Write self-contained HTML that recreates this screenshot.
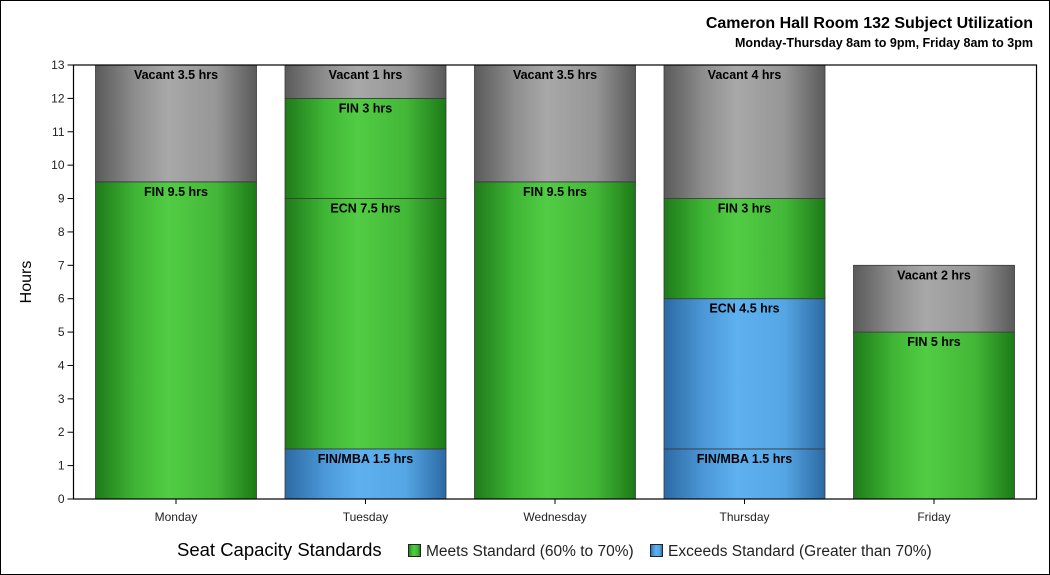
<!DOCTYPE html>
<html><head><meta charset="utf-8"><style>
body{margin:0;background:#fff;}
svg{display:block;font-family:"Liberation Sans",Arial,sans-serif;}
</style></head><body>
<svg id="c" width="1050" height="575">
<defs>
<linearGradient id="gG" x1="0" x2="1" y1="0" y2="0"><stop offset="0" stop-color="#1f7a1a"/><stop offset="0.25" stop-color="#3fb635"/><stop offset="0.45" stop-color="#52cc44"/><stop offset="0.75" stop-color="#43b838"/><stop offset="1" stop-color="#1d7a17"/></linearGradient>
<linearGradient id="gY" x1="0" x2="1" y1="0" y2="0"><stop offset="0" stop-color="#5a5a5a"/><stop offset="0.25" stop-color="#8e8e8e"/><stop offset="0.45" stop-color="#a8a8a8"/><stop offset="0.75" stop-color="#969696"/><stop offset="1" stop-color="#5a5a5a"/></linearGradient>
<linearGradient id="gB" x1="0" x2="1" y1="0" y2="0"><stop offset="0" stop-color="#2c6aa4"/><stop offset="0.25" stop-color="#4c98d8"/><stop offset="0.45" stop-color="#5eb0ee"/><stop offset="0.75" stop-color="#55a6e4"/><stop offset="1" stop-color="#2c6aa4"/></linearGradient>
</defs>
<rect x="0.5" y="0.5" width="1049" height="574" fill="#fff" stroke="#000"/>
<text x="1033" y="28" text-anchor="end" font-size="16" font-weight="bold">Cameron Hall Room 132 Subject Utilization</text>
<text x="1033" y="47" text-anchor="end" font-size="12.5" font-weight="bold">Monday-Thursday 8am to 9pm, Friday 8am to 3pm</text>
<g id="plot"></g>
<text transform="translate(31,282) rotate(-90)" text-anchor="middle" font-size="16">Hours</text>
<g>
<text x="177" y="556" font-size="18.5">Seat Capacity Standards</text>
<rect x="408.5" y="544.5" width="12" height="12" fill="url(#gG)" stroke="#222"/>
<text x="426" y="556" font-size="15.5" fill="#222">Meets Standard (60% to 70%)</text>
<rect x="650.5" y="544.5" width="12" height="12" fill="url(#gB)" stroke="#222"/>
<text x="668" y="556" font-size="15.5" fill="#222">Exceeds Standard (Greater than 70%)</text>
</g>
</svg>
<script>
const categories=["Monday","Tuesday","Wednesday","Thursday","Friday"];
const segValues=[[9.5,3.5],[1.5,7.5,3,1],[9.5,3.5],[1.5,4.5,3,4],[5,2]];
const segLabels=[["FIN 9.5 hrs","Vacant 3.5 hrs"],["FIN/MBA 1.5 hrs","ECN 7.5 hrs","FIN 3 hrs","Vacant 1 hrs"],["FIN 9.5 hrs","Vacant 3.5 hrs"],["FIN/MBA 1.5 hrs","ECN 4.5 hrs","FIN 3 hrs","Vacant 4 hrs"],["FIN 5 hrs","Vacant 2 hrs"]];
const segTypes=[["G","Y"],["B","G","G","Y"],["G","Y"],["B","B","G","Y"],["G","Y"]];
const yTicks=[0,1,2,3,4,5,6,7,8,9,10,11,12,13];
const NS="http://www.w3.org/2000/svg";
const g=document.getElementById("plot");
const X0=73.5,X1=1036.5,Y0=499,Y1=65,YMAX=13;
const y=v=>Y0-(v/YMAX)*(Y0-Y1);
const step=189.5,bw=161;
const xc=i=>176+i*step;
function mk(t,a){const e=document.createElementNS(NS,t);for(const k in a)e.setAttribute(k,a[k]);g.appendChild(e);return e;}
categories.forEach((c,i)=>{
 let base=0;
 segValues[i].forEach((v,j)=>{
  const r=mk("rect",{x:xc(i)-bw/2,y:y(base+v),width:bw,height:y(base)-y(base+v),fill:"url(#g"+segTypes[i][j]+")",stroke:"#3a3a3a","stroke-width":"0.8"});
  
  
  const t=mk("text",{x:xc(i),y:y(base+v)+14,"text-anchor":"middle","font-size":"12.5","font-weight":"bold"});
  t.textContent=segLabels[i][j];
  
  
  base+=v;
 });
 const tk=mk("line",{x1:xc(i),x2:xc(i),y1:Y0,y2:Y0+5,stroke:"#000"});
 
 
 const lt=mk("text",{x:xc(i),y:521,"text-anchor":"middle","font-size":"12",fill:"#222"});
 lt.textContent=c;
 
 
});
yTicks.forEach(v=>{
 const l=mk("line",{x1:X0-6,x2:X0,y1:y(v),y2:y(v),stroke:"#000"});
 
 
 const t=mk("text",{x:X0-9,y:y(v)+4,"text-anchor":"end","font-size":"12",fill:"#222"});
 t.textContent=v;
 
 
});
const ax=mk("rect",{x:X0,y:Y1,width:X1-X0,height:Y0-Y1,fill:"none",stroke:"#000","stroke-width":"1.2"});


</script>
</body></html>
